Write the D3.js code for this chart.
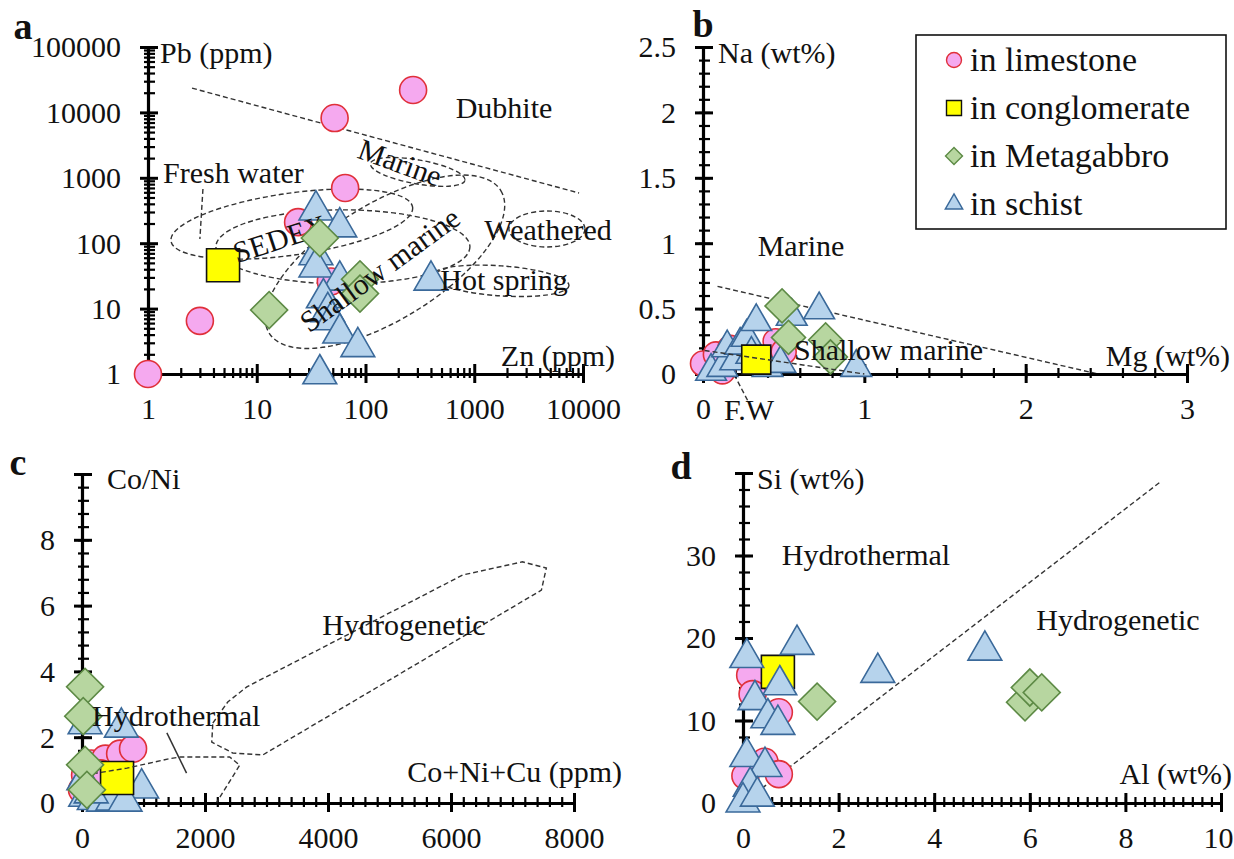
<!DOCTYPE html>
<html>
<head>
<meta charset="utf-8">
<script src="https://cdn.jsdelivr.net/npm/d3@7"></script>
<style>
  body { margin: 0; background: #fff; }
</style>
</head>
<body>
<div id="canvas"></div>
<script>
// series names (legend)
const seriesNames = ["in limestone", "in conglomerate", "in Metagabbro", "in schist"];

// panel a : Zn (ppm) vs Pb (ppm), log-log
const aLimestone = [[1, 1], [3, 6.5], [52, 8200], [274, 22000], [65, 700], [24, 210], [48, 26]];
const aConglomerate = [[4.9, 46]];
const aMetagabbro = [[38, 120], [13, 9.5], [89, 28], [89, 17]];
const aSchist = [[35, 320], [58, 176], [35, 66], [35, 43], [58, 27], [41, 14.5], [45, 8.9], [49, 6.7], [58, 4.2], [85, 2.6], [38, 1], [400, 27]];
const aTicks = [1, 10, 100, 1000, 10000];
const aTicksY = [1, 10, 100, 1000, 10000, 100000];

// panel b : Mg (wt%) vs Na (wt%)
const bLimestone = [[0, 0.08], [0.08, 0.15], [0.17, 0.2], [0.45, 0.25], [0.5, 0.17], [0.3, 0.1], [0.12, 0.02]];
const bConglomerate = [[0.33, 0.11]];
const bMetagabbro = [[0.49, 0.52], [0.53, 0.28], [0.76, 0.26], [0.79, 0.13]];
const bSchist = [[0.05, 0.02], [0.12, 0.05], [0.15, 0.2], [0.2, 0.1], [0.23, 0.22], [0.27, 0.28], [0.3, 0.15], [0.33, 0.4], [0.4, 0.05], [0.48, 0.08], [0.55, 0.44], [0.72, 0.49], [0.95, 0.05]];
const bTicks = [0, 1, 2, 3];
const bTicksY = [0, 0.5, 1, 1.5, 2, 2.5];

// panel c : Co+Ni+Cu (ppm) vs Co/Ni
const cLimestone = [[0, 0.4], [50, 0.85], [150, 1.2], [380, 1.35], [620, 1.5], [830, 1.65], [300, 0.9]];
const cConglomerate = [[570, 0.76]];
const cMetagabbro = [[50, 3.53], [20, 2.64], [50, 1.16], [80, 0.4]];
const cSchist = [[50, 2.4], [640, 2.3], [970, 0.45], [30, 0.7], [60, 0.2], [200, 0.1], [350, 0.05], [500, 0.08], [700, 0.05], [150, 0.3]];
const cTicks = [0, 2000, 4000, 6000, 8000];
const cTicksY = [0, 2, 4, 6, 8, 10];

// panel d : Al (wt%) vs Si (wt%)
const dLimestone = [[0.15, 15.5], [0.2, 13.2], [0.75, 11], [0.45, 5], [0.75, 3.5], [0.05, 3.3]];
const dConglomerate = [[0.73, 15.9]];
const dMetagabbro = [[1.55, 12.3], [5.9, 12.2], [6.0, 14.0], [6.25, 13.4]];
const dSchist = [[0.08, 17.6], [1.13, 19.2], [0.77, 14.3], [0.25, 12.5], [0.52, 10.3], [0.73, 9.5], [0.08, 5.6], [0.46, 4.4], [0.15, 2.0], [0, 0.1], [0.3, 0.8], [2.82, 15.8], [5.06, 18.5]];
const dTicks = [0, 2, 4, 6, 8, 10];
const dTicksY = [0, 10, 20, 30, 40];

// field boundaries
const aDubhiteLine = [[2.54, 23500], [9200, 585]];
const aFreshLeader = [[3.2, 676], [3.0, 116]];
// ellipses: centre [Zn, Pb]
const aFields = [
  {name: "fresh", c: [21, 196]},
  {name: "sedex", c: [62, 88]},
  {name: "shallow", c: [151, 52]},
  {name: "marine", c: [302, 1230]},
  {name: "weathered", c: [4660, 165]},
  {name: "hotspring", c: [1730, 26.6]}
];
const bMarineLine = [[0.09, 0.67], [2.45, 0]];
const bShallowLine = [[0.01, 0.18], [1.0, 0]];
const bFWLeader = [[0.17, 0.05], [0.28, -0.21]];
const cHydrogenetic = [[2127, 2.43], [2370, 3.07], [2680, 3.53], [6190, 6.93], [7160, 7.33], [7550, 7.14], [7470, 6.47], [2940, 1.46], [2450, 1.52], [2110, 1.85]];
const cHydrothermal = [[50, 0.85], [730, 1.06], [1430, 1.35], [1600, 1.4], [2400, 1.4], [2565, 1.15], [2190, 0.02]];
const cLeader = [[1380, 2.13], [1700, 0.91]];
const dLine = [[0.4, 1.8], [8.75, 39]];

const w = 1234, h = 859;
const FS = 30;
const FONT = "'Liberation Serif', 'Times New Roman', 'DejaVu Serif', serif";

const styles = [
  {fill: "#f5a9ef", stroke: "#e0303a"},
  {fill: "#ffff00", stroke: "#111"},
  {fill: "#b7d6a0", stroke: "#5d8a45"},
  {fill: "#b6d3ec", stroke: "#3a699a"}
];

const svg = d3.select("#canvas").append("svg")
  .attr("width", w).attr("height", h)
  .style("font-family", FONT);

function symbolPath(kind, s) {
  // s = nominal marker size in px
  if (kind === 0) return d3.symbol(d3.symbolCircle, Math.PI * (s / 2) * (s / 2))();
  if (kind === 1) return d3.symbol(d3.symbolSquare, s * s)();
  if (kind === 2) return d3.symbol(d3.symbolSquare, s * s / 2)();
  return d3.symbol(d3.symbolTriangle, Math.sqrt(3) / 4 * s * s * 1.05)();
}

function dashed(g, d, line) {
  g.append("path").datum(d).attr("d", line)
    .attr("fill", "none").attr("stroke", "#333")
    .attr("stroke-width", 1.4).attr("stroke-dasharray", "5,3");
}

function text(g, x, y, t, opt) {
  opt = opt || {};
  const el = g.append("text").attr("x", x).attr("y", y).attr("dy", "0.33em")
    .style("font-family", FONT)
    .attr("font-size", opt.size || FS)
    .attr("fill", "#111")
    .attr("text-anchor", opt.anchor || "start")
    .text(t);
  if (opt.rotate) el.attr("transform", `rotate(${opt.rotate},${x},${y})`);
  if (opt.bold) el.attr("font-weight", "bold");
  return el;
}

function axes(g, x, y, o) {
  const x0 = x.range()[0], y0 = y.range()[0];
  // minor ticks
  g.append("g").attr("transform", `translate(0,${y0})`)
    .call(d3.axisBottom(x).tickValues(o.xMinor).tickFormat("").tickSizeOuter(0))
    .call(s => s.select(".domain").remove())
    .call(s => s.selectAll(".tick line").attr("y1", -6).attr("y2", 4).attr("stroke-width", 2.2));
  g.append("g").attr("transform", `translate(${x0},0)`)
    .call(d3.axisLeft(y).tickValues(o.yMinor).tickFormat("").tickSizeOuter(0))
    .call(s => s.select(".domain").remove())
    .call(s => s.selectAll(".tick line").attr("x1", 7).attr("x2", -4).attr("stroke-width", 2.2));

  const ax = g.append("g").attr("transform", `translate(0,${y0})`)
    .call(d3.axisBottom(x).tickValues(o.xMajor).tickFormat(o.xFmt).tickSizeOuter(0));
  ax.attr("font-family", null).attr("font-size", null);
  ax.select(".domain").attr("stroke-width", 3.2);
  ax.selectAll(".tick line").attr("y1", -10).attr("y2", 9).attr("stroke-width", 3);
  ax.selectAll(".tick text").attr("y", 35).attr("dy", "0.33em")
    .style("font-family", FONT).attr("font-size", FS).attr("fill", "#111");

  const ay = g.append("g").attr("transform", `translate(${x0},0)`)
    .call(d3.axisLeft(y).tickValues(o.yMajor).tickFormat(o.yFmt).tickSizeOuter(0));
  ay.attr("font-family", null).attr("font-size", null);
  ay.select(".domain").attr("stroke-width", 3.2);
  ay.selectAll(".tick line").attr("x1", 10).attr("x2", -8).attr("stroke-width", 3);
  ay.selectAll(".tick text").attr("x", -27).attr("dy", "0.33em")
    .style("font-family", FONT).attr("font-size", FS).attr("fill", "#111");
  return ax;
}

function points(g, x, y, sets, sizes, order) {
  order.forEach(k => {
    g.append("g").selectAll("path")
      .data(sets[k]).enter()
      .append("path")
      .attr("d", symbolPath(k, sizes[k]))
      .attr("transform", d => `translate(${x(d[0])},${y(d[1])})` + (k === 2 ? " rotate(45)" : ""))
      .attr("fill", styles[k].fill)
      .attr("stroke", styles[k].stroke)
      .attr("stroke-width", 1.6);
  });
}

function logMinor(maxExp) {
  const out = [];
  for (let e = 0; e < maxExp; e++) for (let k = 2; k <= 9; k++) out.push(k * Math.pow(10, e));
  return out;
}

const fmtLog = d3.format("d");
const sizes = [27, 33, 37, 33];

// ---------------- panel a
(function(){
  const g = svg.append("g");
  const x = d3.scaleLog().domain([1, 10000]).range([148, 583]);
  const y = d3.scaleLog().domain([1, 100000]).range([374, 47]);
  const line = d3.line().x(d => x(d[0])).y(d => y(d[1]));

  dashed(g, aDubhiteLine, line);
  dashed(g, aFreshLeader, line);
  const shapes = {
    fresh: {rx: 122, ry: 31, a: -8},
    sedex: {rx: 127, ry: 37, a: 0},
    shallow: {rx: 136, ry: 58, a: -31.6},
    marine: {rx: 48, ry: 12, a: 10},
    weathered: {rx: 38, ry: 18, a: 0},
    hotspring: {rx: 69, ry: 15, a: 4}
  };
  g.append("g").selectAll("ellipse").data(aFields).enter()
    .append("ellipse")
    .attr("cx", d => x(d.c[0])).attr("cy", d => y(d.c[1]))
    .attr("rx", d => shapes[d.name].rx).attr("ry", d => shapes[d.name].ry)
    .attr("transform", d => `rotate(${shapes[d.name].a},${x(d.c[0])},${y(d.c[1])})`)
    .attr("fill", "none").attr("stroke", "#333")
    .attr("stroke-width", 1.4).attr("stroke-dasharray", "5,3");

  axes(g, x, y, {
    xMajor: aTicks, xMinor: logMinor(4), xFmt: fmtLog,
    yMajor: aTicksY, yMinor: logMinor(5), yFmt: fmtLog
  });

  text(g, 504, 108, "Dubhite", {anchor: "middle"});
  text(g, 400, 163, "Marine", {anchor: "middle", rotate: 20});
  text(g, 163, 173, "Fresh water");
  text(g, 548, 230, "Weathered", {anchor: "middle"});

  points(g, x, y, [aLimestone, aConglomerate, aMetagabbro, aSchist], sizes, [0, 1, 3]);
  text(g, 280, 239, "SEDEX", {anchor: "middle", rotate: -18});
  points(g, x, y, [aLimestone, aConglomerate, aMetagabbro, aSchist], sizes, [2]);

  text(g, 380, 270, "Shallow marine", {anchor: "middle", rotate: -36});
  text(g, 504, 280, "Hot spring", {anchor: "middle"});
  text(g, 160, 53, "Pb (ppm)");
  text(g, 615, 356, "Zn (ppm)", {anchor: "end"});
  text(g, 23, 26, "a", {anchor: "middle", bold: true, size: 38});
})();

// ---------------- panel b
(function(){
  const g = svg.append("g");
  const x = d3.scaleLinear().domain([0, 3]).range([703, 1187]);
  const y = d3.scaleLinear().domain([0, 2.5]).range([374, 47]);
  const line = d3.line().x(d => x(d[0])).y(d => y(d[1]));

  dashed(g, bMarineLine, line);
  dashed(g, bFWLeader, line);

  axes(g, x, y, {
    xMajor: bTicks, xMinor: d3.range(0, 3.01, 0.2), xFmt: d3.format("d"),
    yMajor: bTicksY, yMinor: d3.range(0, 2.51, 0.1), yFmt: d => String(d)
  });

  points(g, x, y, [bLimestone, bConglomerate, bMetagabbro, bSchist], [25, 29, 34, 30], [0, 3, 2, 1]);
  dashed(g, bShallowLine, line);

  text(g, 801, 246, "Marine", {anchor: "middle"});
  text(g, 794, 350, "Shallow marine");
  text(g, 724, 410, "F.W");
  text(g, 718, 53, "Na (wt%)");
  text(g, 1230, 356, "Mg (wt%)", {anchor: "end"});
  text(g, 703, 24, "b", {anchor: "middle", bold: true, size: 38});

  // legend
  const lg = g.append("g");
  lg.append("rect").attr("x", 916).attr("y", 35).attr("width", 310).attr("height", 194)
    .attr("fill", "#fff").attr("stroke", "#111").attr("stroke-width", 1.6);
  const rows = lg.selectAll("g.row").data(seriesNames).enter()
    .append("g").attr("class", "row")
    .attr("transform", (d, i) => `translate(954,${60 + i * 48})`);
  rows.append("path")
    .attr("d", (d, i) => symbolPath(i, [15, 15, 17, 17][i]))
    .attr("transform", (d, i) => i === 2 ? "rotate(45)" : null)
    .attr("fill", (d, i) => styles[i].fill)
    .attr("stroke", (d, i) => styles[i].stroke)
    .attr("stroke-width", 1.4);
  rows.append("text").attr("x", 16).attr("dy", "0.33em")
    .style("font-family", FONT).attr("fill", "#111")
    .attr("font-size", 34).text(d => d);
})();

// ---------------- panel c
(function(){
  const g = svg.append("g");
  const x = d3.scaleLinear().domain([0, 8000]).range([82, 574]);
  const y = d3.scaleLinear().domain([0, 10]).range([803, 474]);
  const line = d3.line().x(d => x(d[0])).y(d => y(d[1]));

  g.append("path").datum(cHydrogenetic)
    .attr("d", d3.line().x(d => x(d[0])).y(d => y(d[1])).curve(d3.curveLinearClosed))
    .attr("fill", "none").attr("stroke", "#333")
    .attr("stroke-width", 1.4).attr("stroke-dasharray", "5,3");
  g.append("path").datum(cLeader).attr("d", line)
    .attr("stroke", "#333").attr("stroke-width", 1.5).attr("fill", "none");

  axes(g, x, y, {
    xMajor: cTicks, xMinor: d3.range(0, 8001, 200), xFmt: d3.format("d"),
    yMajor: cTicksY, yMinor: d3.range(0, 10.01, 0.4), yFmt: d => d === 10 ? "" : String(d)
  });

  text(g, 404, 625, "Hydrogenetic", {anchor: "middle"});
  points(g, x, y, [cLimestone, cConglomerate, cMetagabbro, cSchist], sizes, [0, 3, 1]);
  dashed(g, cHydrothermal, line);
  points(g, x, y, [cLimestone, cConglomerate, cMetagabbro, cSchist], sizes, [2]);
  text(g, 92, 716, "Hydrothermal");
  text(g, 622, 772, "Co+Ni+Cu (ppm)", {anchor: "end"});
  text(g, 107, 479, "Co/Ni");
  text(g, 18, 462, "c", {anchor: "middle", bold: true, size: 38});
})();

// ---------------- panel d
(function(){
  const g = svg.append("g");
  const x = d3.scaleLinear().domain([0, 10]).range([743, 1221]);
  const y = d3.scaleLinear().domain([0, 40]).range([803, 473]);
  const line = d3.line().x(d => x(d[0])).y(d => y(d[1]));

  dashed(g, dLine, line);

  const ax = axes(g, x, y, {
    xMajor: dTicks, xMinor: d3.range(0, 10.01, 0.2), xFmt: d3.format("d"),
    yMajor: dTicksY, yMinor: d3.range(0, 40.01, 2), yFmt: d => d === 40 ? "" : String(d)
  });
  // keep the last label inside the picture
  ax.selectAll(".tick text").filter(d => d === 10).attr("text-anchor", "end").attr("x", 12);

  points(g, x, y, [dLimestone, dConglomerate, dMetagabbro, dSchist], sizes, [0, 1, 3, 2]);

  text(g, 866, 555, "Hydrothermal", {anchor: "middle"});
  text(g, 1118, 620, "Hydrogenetic", {anchor: "middle"});
  text(g, 1232, 774, "Al (wt%)", {anchor: "end"});
  text(g, 757, 479, "Si (wt%)");
  text(g, 681, 466, "d", {anchor: "middle", bold: true, size: 38});
})();
</script>
</body>
</html>
